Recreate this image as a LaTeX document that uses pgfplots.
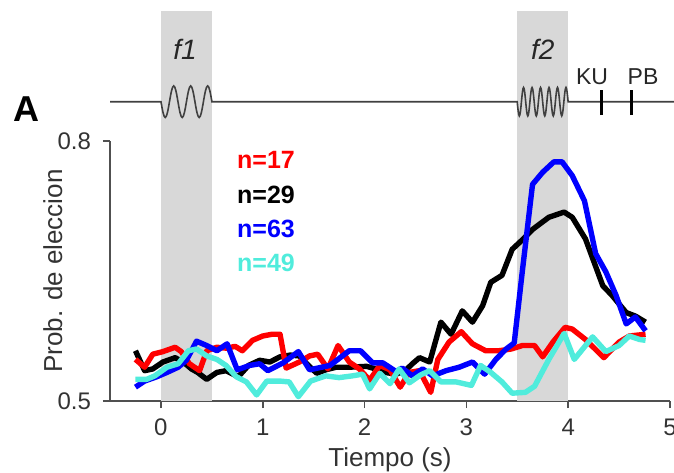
\documentclass[border=0pt]{standalone}
\usepackage{fontspec}
\setmainfont{Liberation Sans}
\setsansfont{Liberation Sans}
\usepackage{pgfplots}
\pgfplotsset{compat=1.18}
\definecolor{bandgray}{RGB}{216,216,216}
\definecolor{myred}{RGB}{255,0,0}
\definecolor{myblue}{RGB}{0,0,255}
\definecolor{mycyan}{RGB}{80,236,220}
\definecolor{axgray}{RGB}{80,80,80}
\newcommand{\cycA}{sin ++(2.121pt,-7.9pt) cos ++(2.121pt,7.9pt) sin ++(2.121pt,7.9pt) cos ++(2.121pt,-7.9pt)}
\newcommand{\cycB}{sin ++(1.0606pt,-7.1pt) cos ++(1.0606pt,7.1pt) sin ++(1.0606pt,7.1pt) cos ++(1.0606pt,-7.1pt)}
\begin{document}
\begin{tikzpicture}
\begin{axis}[
  width=280pt, height=130pt, scale only axis,
  xmin=-0.5, xmax=5, ymin=0.5, ymax=0.8,
  axis x line*=bottom, axis y line*=left,
  xtick={0,1,2,3,4,5}, ytick={0.5,0.8}, yticklabels={0.5,0.8},
  tick align=outside, major tick length=3.5pt,
  axis line style={axgray, line width=0.8pt},
  tick style={axgray, line width=0.8pt},
  clip=false,
  /pgf/number format/assume math mode=true,
  ticklabel style={font=\fontsize{12}{14}\selectfont, text=black!80},
  xticklabel style={yshift=-2pt},
  yticklabel style={xshift=-2.5pt},
  xlabel={Tiempo (s)}, ylabel={Prob. de eleccion},
  every axis x label/.style={at={(axis description cs:0.5,-0.227)}, anchor=center, font=\fontsize{13}{15}\selectfont, text=black!80},
  every axis y label/.style={at={(axis description cs:-0.102,0.5)}, rotate=90, anchor=center, font=\fontsize{13}{15}\selectfont, text=black!80},
]
\coordinate (O) at (rel axis cs:0,0);
\fill[bandgray] (axis cs:0,0.5) rectangle (axis cs:0.5,0.95);
\fill[bandgray] (axis cs:3.5,0.5) rectangle (axis cs:4,0.95);

\addplot[black, line width=2.7pt, line join=round] coordinates {
(-0.25,0.558) (-0.16,0.535) (-0.08,0.537) (0.02,0.545) (0.14,0.550) (0.22,0.545) (0.30,0.537) (0.36,0.533) (0.45,0.525) (0.55,0.533) (0.64,0.535) (0.76,0.528) (0.86,0.541) (0.97,0.547) (1.07,0.545) (1.17,0.551) (1.27,0.553) (1.36,0.552) (1.45,0.541) (1.53,0.532) (1.62,0.536) (1.72,0.539) (1.85,0.539) (2.02,0.540) (2.11,0.537) (2.20,0.533) (2.31,0.531) (2.40,0.535) (2.47,0.543) (2.54,0.550) (2.64,0.545) (2.75,0.591) (2.85,0.577) (2.96,0.604) (3.06,0.591) (3.16,0.610) (3.24,0.637) (3.35,0.645) (3.45,0.675) (3.55,0.686) (3.65,0.698) (3.81,0.712) (3.96,0.718) (4.04,0.712) (4.17,0.687) (4.34,0.633) (4.43,0.622) (4.57,0.602) (4.66,0.598) (4.76,0.591)
};
\addplot[myred, line width=2.7pt, line join=round] coordinates {
(-0.25,0.548) (-0.16,0.539) (-0.08,0.554) (0.02,0.557) (0.14,0.562) (0.20,0.557) (0.28,0.543) (0.38,0.535) (0.45,0.558) (0.55,0.562) (0.64,0.561) (0.73,0.563) (0.80,0.558) (0.90,0.570) (1.00,0.575) (1.09,0.577) (1.17,0.577) (1.23,0.538) (1.36,0.545) (1.46,0.552) (1.54,0.554) (1.64,0.537) (1.74,0.564) (1.85,0.545) (1.95,0.537) (2.05,0.524) (2.15,0.541) (2.25,0.536) (2.35,0.516) (2.44,0.533) (2.54,0.535) (2.65,0.510) (2.72,0.548) (2.83,0.568) (2.95,0.580) (3.06,0.566) (3.19,0.558) (3.32,0.558) (3.44,0.560) (3.55,0.564) (3.67,0.564) (3.75,0.551) (3.85,0.568) (3.97,0.585) (4.04,0.583) (4.17,0.571) (4.35,0.550) (4.50,0.568) (4.60,0.575) (4.76,0.577)
};
\addplot[myblue, line width=2.7pt, line join=round] coordinates {
(-0.25,0.516) (-0.16,0.523) (-0.04,0.528) (0.06,0.533) (0.17,0.539) (0.25,0.547) (0.35,0.569) (0.45,0.564) (0.55,0.558) (0.65,0.566) (0.75,0.536) (0.87,0.541) (0.97,0.543) (1.05,0.535) (1.20,0.544) (1.35,0.557) (1.46,0.536) (1.66,0.541) (1.85,0.558) (1.96,0.558) (2.08,0.544) (2.18,0.544) (2.31,0.534) (2.37,0.538) (2.47,0.529) (2.57,0.537) (2.67,0.529) (2.80,0.535) (2.93,0.539) (3.06,0.545) (3.18,0.531) (3.29,0.548) (3.39,0.560) (3.47,0.567) (3.55,0.650) (3.65,0.750) (3.75,0.764) (3.86,0.776) (3.94,0.776) (4.04,0.760) (4.16,0.731) (4.27,0.670) (4.37,0.649) (4.47,0.622) (4.57,0.589) (4.66,0.597) (4.76,0.581)
};
\addplot[mycyan, line width=2.7pt, line join=round] coordinates {
(-0.25,0.525) (-0.14,0.525) (-0.06,0.529) (0.06,0.539) (0.17,0.543) (0.27,0.558) (0.35,0.560) (0.45,0.552) (0.55,0.548) (0.64,0.541) (0.74,0.528) (0.84,0.522) (0.94,0.507) (1.04,0.523) (1.17,0.523) (1.26,0.522) (1.35,0.505) (1.47,0.523) (1.62,0.529) (1.75,0.527) (1.88,0.529) (1.98,0.531) (2.05,0.514) (2.15,0.532) (2.25,0.520) (2.34,0.537) (2.44,0.521) (2.55,0.530) (2.64,0.535) (2.75,0.522) (2.90,0.522) (3.05,0.518) (3.14,0.541) (3.24,0.533) (3.35,0.522) (3.45,0.509) (3.58,0.510) (3.67,0.517) (3.81,0.548) (3.96,0.578) (4.06,0.548) (4.24,0.574) (4.37,0.557) (4.50,0.564) (4.60,0.575) (4.70,0.571) (4.76,0.570)
};

\node[anchor=west, text=myred, font=\fontsize{12.5}{14}\selectfont\bfseries] at (axis cs:0.68,0.778) {n=17};
\node[anchor=west, text=black, font=\fontsize{12.5}{14}\selectfont\bfseries] at (axis cs:0.68,0.738) {n=29};
\node[anchor=west, text=myblue, font=\fontsize{12.5}{14}\selectfont\bfseries] at (axis cs:0.68,0.698) {n=63};
\node[anchor=west, text=mycyan, font=\fontsize{12.5}{14}\selectfont\bfseries] at (axis cs:0.68,0.659) {n=49};

\node[font=\fontsize{14}{16}\selectfont\itshape, text=black!85] at (axis cs:0.236,0.906) {f1};
\node[font=\fontsize{14}{16}\selectfont\itshape, text=black!85] at (axis cs:3.75,0.906) {f2};
\node[font=\fontsize{11.5}{13}\selectfont, text=black!85] at (axis cs:4.235,0.874) {KU};
\node[font=\fontsize{11.5}{13}\selectfont, text=black!85] at (axis cs:4.735,0.874) {PB};
\end{axis}
\begin{scope}[shift={(O)}]
\draw[line width=0.8pt, black!75] (0pt,149.65pt) -- (25.5pt,149.65pt) \cycA \cycA \cycA -- (203.6pt,149.65pt) \cycB \cycB \cycB \cycB \cycB \cycB -- (282pt,149.65pt);
\draw[line width=1.5pt, black] (245.9pt,143pt) -- (245.9pt,155.5pt);
\draw[line width=1.5pt, black] (260.7pt,143pt) -- (260.7pt,155.5pt);
\node[font=\fontsize{18}{20}\selectfont\bfseries] at (-42pt,146pt) {A};
\end{scope}
\pgfresetboundingbox
\path ([shift={(-55pt,-35.5pt)}]O) rectangle ([shift={(282pt,200.5pt)}]O);
\end{tikzpicture}
\end{document}
